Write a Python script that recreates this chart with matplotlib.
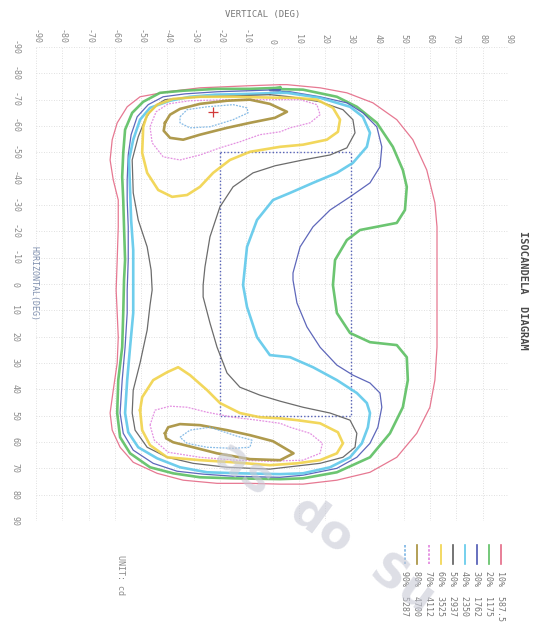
import matplotlib
matplotlib.use('Agg')
import matplotlib.pyplot as plt
from matplotlib.patches import Rectangle
from matplotlib.lines import Line2D

# isocandela levels, % of peak intensity, and the candela value of each
levels = [10, 20, 30, 40, 50, 60, 70, 80, 90]
candela = ['587.5', '1175', '1762', '2350', '2937', '3525', '4112', '4700', '5287']

ticks = list(range(-90, 91, 10))

# contour traces as (vertical deg, horizontal deg)
c10 = [(2.9, -75.7), (-8.6, -75.3), (-27.6, -74.5), (-40.1, -73.0), (-50.4, -71.1), (-55.3, -67.3),
       (-59.1, -61.2), (-61.0, -54.8), (-61.8, -47.1), (-60.6, -39.5), (-58.7, -31.9), (-58.7, -21.7),
       (-59.1, -9.1), (-59.5, 2.3), (-59.1, 11.0), (-58.7, 20.2), (-59.1, 30.0), (-60.6, 40.3),
       (-61.8, 49.0), (-61.0, 55.5), (-58.0, 62.0), (-53.0, 67.7), (-43.9, 71.9), (-34.0, 74.5),
       (-21.1, 75.7), (-8.6, 75.7), (2.9, 76.0), (11.6, 76.0), (24.5, 74.5), (37.1, 71.5), (47.3, 65.8),
       (54.9, 56.7), (59.9, 46.8), (61.8, 36.5), (62.6, 24.0), (62.6, 11.0), (62.6, -1.5), (62.6, -21.7),
       (61.8, -30.8), (58.7, -43.3), (53.4, -54.8), (47.3, -62.4), (38.2, -68.8), (28.3, -72.6),
       (18.1, -74.5), (5.5, -75.7)]

c20 = [(2.9, -74.5), (-8.6, -74.1), (-21.1, -74.1), (-34.0, -73.4), (-42.8, -72.6), (-49.2, -69.2),
       (-53.4, -65.0), (-56.1, -58.6), (-56.8, -49.8), (-57.2, -40.7), (-56.8, -31.9), (-56.5, -21.7),
       (-56.1, -9.1), (-56.5, -1.5), (-56.8, 11.0), (-57.2, 24.0), (-58.7, 36.5), (-59.1, 49.0),
       (-58.0, 58.2), (-54.2, 64.3), (-46.6, 69.6), (-37.8, 71.9), (-27.6, 73.4), (-15.0, 73.8),
       (2.9, 74.1), (11.6, 73.8), (24.5, 71.5), (37.1, 65.8), (44.7, 56.7), (49.6, 46.8), (51.5, 36.5),
       (51.1, 27.8), (47.3, 23.2), (37.1, 22.1), (29.5, 18.6), (24.5, 11.0), (23.0, 0.4), (23.8, -9.1),
       (28.3, -16.7), (33.3, -20.5), (47.3, -23.2), (50.4, -28.1), (51.1, -36.9), (49.6, -43.3),
       (45.8, -52.1), (39.7, -61.2), (32.1, -67.3), (24.5, -71.1), (11.6, -73.8), (-1.0, -74.1)]

c30 = [(2.9, -73.8), (-8.6, -73.4), (-21.1, -73.0), (-33.3, -72.2), (-41.6, -71.1), (-47.3, -68.1),
       (-51.5, -63.5), (-53.8, -56.7), (-54.9, -49.0), (-55.3, -39.5), (-55.3, -31.9), (-54.9, -21.7),
       (-54.9, -9.1), (-55.3, 2.3), (-55.3, 11.0), (-56.1, 24.0), (-57.2, 36.5), (-58.0, 49.0),
       (-56.8, 56.7), (-53.0, 63.1), (-45.4, 68.1), (-36.3, 71.1), (-26.4, 72.2), (-15.0, 73.0),
       (2.9, 73.4), (11.6, 72.6), (24.5, 70.0), (32.1, 65.8), (37.1, 60.5), (40.1, 54.4), (41.6, 46.8),
       (40.9, 41.4), (37.1, 37.6), (30.6, 34.6), (24.5, 30.8), (18.1, 24.0), (13.1, 16.3), (9.3, 7.2),
       (7.8, -1.5), (7.8, -4.2), (10.5, -14.1), (15.4, -21.7), (21.9, -28.1), (29.5, -33.1),
       (37.1, -38.4), (40.9, -44.5), (41.6, -52.1), (39.7, -59.7), (34.4, -65.0), (28.3, -68.8),
       (18.1, -71.1), (6.7, -73.0), (-1.0, -73.4)]

c40 = [(2.9, -72.6), (-8.6, -72.2), (-21.9, -71.9), (-31.4, -71.1), (-39.0, -69.6), (-46.6, -66.9),
       (-50.4, -62.4), (-53.0, -54.8), (-54.6, -47.1), (-54.2, -35.7), (-53.8, -24.3), (-53.0, -12.9),
       (-53.0, 2.3), (-53.0, 11.0), (-54.2, 24.0), (-55.3, 36.5), (-56.1, 49.0), (-54.9, 56.3),
       (-51.1, 62.0), (-43.9, 66.2), (-35.2, 69.6), (-24.9, 71.5), (-12.4, 71.9), (2.9, 72.2),
       (11.6, 71.9), (21.9, 69.6), (29.5, 65.8), (34.0, 60.5), (36.3, 54.4), (37.1, 49.0), (35.9, 45.2),
       (32.1, 41.4), (24.5, 36.5), (15.4, 31.6), (6.7, 27.8), (-1.0, 27.0), (-5.9, 20.2), (-9.7, 8.7),
       (-11.2, 0.4), (-9.7, -14.1), (-5.9, -24.3), (0.2, -31.9), (6.7, -34.6), (15.4, -38.4),
       (24.5, -42.2), (30.6, -46.0), (35.9, -52.1), (37.1, -57.4), (34.4, -63.5), (29.5, -67.3),
       (18.1, -70.7), (5.5, -72.6)]

c50 = [(-1.0, -71.9), (-12.4, -71.5), (-23.8, -71.1), (-33.3, -70.7), (-40.9, -70.0), (-43.5, -68.4),
       (-46.6, -65.4), (-48.5, -62.4), (-51.1, -55.9), (-53.4, -47.1), (-53.0, -34.6), (-51.1, -24.3),
       (-47.7, -14.1), (-46.2, -5.3), (-45.8, 2.3), (-46.6, 8.0), (-47.7, 17.5), (-50.4, 30.0),
       (-53.0, 40.3), (-53.4, 49.0), (-52.3, 55.5), (-47.7, 62.0), (-40.1, 65.8), (-30.2, 68.1),
       (-17.3, 69.6), (-1.0, 70.3), (18.1, 68.1), (26.8, 65.8), (31.4, 62.0), (32.1, 56.7), (29.5, 51.7),
       (21.9, 49.0), (11.6, 46.8), (2.9, 44.5), (-4.8, 42.2), (-12.4, 39.2), (-17.3, 33.8), (-21.1, 24.0),
       (-23.8, 14.8), (-26.4, 4.9), (-26.4, 0.4), (-25.7, -6.5), (-23.8, -17.9), (-20.0, -29.3),
       (-15.0, -36.9), (-7.4, -42.2), (1.0, -44.9), (11.6, -47.1), (21.9, -49.0), (28.3, -51.7),
       (31.4, -57.4), (30.6, -62.4), (26.8, -66.2), (18.1, -69.2), (6.7, -71.1)]

c60_top = [(2.9, -70.7), (-15.0, -71.1), (-27.6, -71.1), (-37.8, -70.3), (-43.9, -68.1), (-47.7, -64.3),
           (-49.2, -59.7), (-49.6, -49.8), (-47.7, -42.2), (-43.5, -35.7), (-38.2, -33.1), (-32.5, -33.8),
           (-27.6, -36.9), (-22.6, -42.2), (-16.2, -47.1), (-8.6, -50.2), (2.9, -52.1), (11.6, -52.9),
           (20.7, -54.8), (24.9, -57.8), (25.7, -62.4), (23.0, -66.9), (16.9, -70.0), (8.6, -70.7)]
c60_bot = [(-50.4, 47.9), (-49.6, 43.0), (-45.4, 36.5), (-40.1, 33.5), (-35.9, 31.6), (-31.4, 34.6),
           (-24.9, 40.3), (-20.0, 45.2), (-12.4, 49.0), (-4.8, 50.6), (2.9, 51.0), (9.3, 51.7),
           (18.1, 52.9), (24.9, 56.3), (26.8, 60.5), (24.5, 64.3), (18.1, 66.9), (9.3, 68.1), (-1.0, 68.8),
           (-15.0, 67.7), (-27.6, 66.9), (-40.1, 65.8), (-46.6, 61.2), (-49.6, 55.5)]

c70_top = [(2.9, -70.0), (-16.2, -70.0), (-31.4, -69.6), (-39.7, -68.4), (-44.3, -65.4), (-46.6, -59.7),
           (-45.8, -53.6), (-41.6, -48.3), (-35.2, -47.1), (-27.6, -49.0), (-20.0, -51.7), (-12.4, -54.0),
           (-4.8, -56.7), (2.9, -57.8), (6.7, -59.3), (14.3, -61.2), (18.1, -64.3), (16.9, -68.1),
           (10.5, -70.0)]
c70_bot = [(-46.6, 53.6), (-44.7, 47.9), (-39.0, 46.4), (-32.5, 46.8), (-24.9, 48.7), (-15.0, 50.6),
           (-5.9, 51.7), (2.9, 52.9), (6.7, 54.4), (14.3, 56.7), (19.0, 60.5), (18.1, 64.3), (11.6, 66.9),
           (-1.0, 67.3), (-14.3, 66.9), (-27.6, 65.8), (-39.7, 63.9), (-45.0, 59.3)]

c80_top = [(-40.9, -61.2), (-39.0, -64.3), (-35.2, -66.5), (-27.6, -68.4), (-17.3, -69.6), (-8.6, -70.0),
           (-1.0, -68.4), (5.5, -65.4), (0.9, -63.1), (-8.6, -61.2), (-17.3, -59.3), (-27.6, -56.7),
           (-34.0, -54.8), (-39.0, -55.5), (-41.4, -58.2)]
c80_bot = [(-40.9, 56.7), (-39.7, 54.4), (-35.2, 53.2), (-27.6, 53.6), (-17.3, 55.5), (-8.6, 57.4),
           (0.2, 59.7), (8.0, 64.3), (2.9, 66.9), (-8.6, 66.5), (-21.1, 64.3), (-30.2, 62.0),
           (-37.8, 60.1), (-40.5, 58.6)]

c90_top = [(-35.2, -63.5), (-32.5, -66.2), (-24.9, -67.3), (-15.0, -68.1), (-9.7, -66.9), (-9.3, -65.0),
           (-15.0, -62.4), (-23.8, -59.7), (-31.4, -59.3), (-35.2, -61.2)]
c90_bot = [(-35.2, 58.2), (-31.4, 55.5), (-23.8, 54.4), (-13.5, 57.8), (-7.8, 59.3), (-8.6, 62.0),
           (-15.0, 62.4), (-24.9, 62.0), (-32.5, 60.5)]

traces = [[c10], [c20], [c30], [c40], [c50], [c60_top, c60_bot],
          [c70_top, c70_bot], [c80_top, c80_bot], [c90_top, c90_bot]]

# peak intensity point and the dotted reference window
peak_v, peak_h = -22.5, -65.5
window_v = (-20, 30)
window_h = (-50, 50)

colors = ['#e46a86', '#5cbf62', '#4d57b3', '#5ec8ea', '#5c5c5c',
          '#f1d34a', '#e184de', '#a68f3a', '#7ab4e4']
widths = [0.9, 1.9, 0.9, 1.9, 0.9, 1.9, 0.9, 1.9, 0.9]
dashes = ['-', '-', '-', '-', '-', '-', (0, (1.5, 1)), '-', (0, (1.5, 1))]

mono = 'DejaVu Sans Mono'
grey_txt = '#8a8a8a'

fig = plt.figure(figsize=(5.4, 6.31), dpi=100)
ax = fig.add_axes([36 / 540, 1 - 521 / 631, 473 / 540, 474 / 631])
ax.set_xlim(-90, 90)
ax.set_ylim(90, -90)

for s in ax.spines.values():
    s.set_visible(False)
ax.set_xticks(ticks)
ax.set_yticks(ticks)
ax.set_xticklabels([str(t) for t in ticks], family=mono, fontsize=6, color=grey_txt)
ax.set_yticklabels([str(t) for t in ticks], family=mono, fontsize=6, color=grey_txt, va='center')
ax.xaxis.set_ticks_position('top')
ax.tick_params(axis='x', length=0, pad=2, labelrotation=-90)
ax.tick_params(axis='y', length=0, pad=12, labelrotation=-90)
ax.grid(True, color='#d6d6d6', lw=0.6, ls=(0, (1, 2)))
ax.set_axisbelow(True)

for pieces, col, lw, ls in zip(traces, colors, widths, dashes):
    for pts in pieces:
        vs = [p[0] for p in pts] + [pts[0][0]]
        hs = [p[1] for p in pts] + [pts[0][1]]
        ax.plot(vs, hs, color=col, lw=lw, ls=ls, solid_joinstyle='round', alpha=0.9)

ax.add_patch(Rectangle((window_v[0], window_h[0]), window_v[1] - window_v[0], window_h[1] - window_h[0],
                       fill=False, edgecolor='#5763b8', lw=1.0, ls=(0, (1, 1.5))))
ax.plot([peak_v], [peak_h], marker='+', color='#d23a3a', ms=7, mew=0.9)

fig.text(263 / 540, 1 - 15 / 631, 'VERTICAL (DEG)', family=mono, fontsize=6.5,
         color='#777777', ha='center', va='center')
fig.text(34 / 540, 1 - 284 / 631, 'HORIZONTAL(DEG)', family=mono, fontsize=6,
         color='#7f8fae', ha='center', va='center', rotation=-90)
fig.text(523 / 540, 1 - 290 / 631, 'ISOCANDELA  DIAGRAM', family=mono, fontsize=7.5, weight='bold',
         color='#4a4a4a', ha='center', va='center', rotation=-90)
fig.text(120 / 540, 1 - 575 / 631, 'UNIT: cd', family=mono, fontsize=6,
         color=grey_txt, ha='center', va='center', rotation=-90)

# legend: one short vertical swatch per level, label underneath
for i, lev in enumerate(levels[::-1]):
    k = len(levels) - 1 - i
    x = (405 + i * 12) / 540
    fig.add_artist(Line2D([x, x], [1 - 545 / 631, 1 - 564 / 631], color=colors[k],
                          lw=1.2, ls=dashes[k] if k >= 6 else '-'))
    fig.text(x, 1 - 571 / 631, f'{lev}%  {candela[k]}', family=mono, fontsize=6,
             color='#777777', ha='center', va='top', rotation=-90)

# faint stamp printed across the lower part of the sheet
fig.text(220 / 540, 1 - 450 / 631, 'as  do  Su', fontsize=34, weight='bold', family='DejaVu Sans',
         color='#c8cad6', alpha=0.6, rotation=-36, rotation_mode='anchor', ha='left', va='center')

fig.savefig('out.png', dpi=100)
